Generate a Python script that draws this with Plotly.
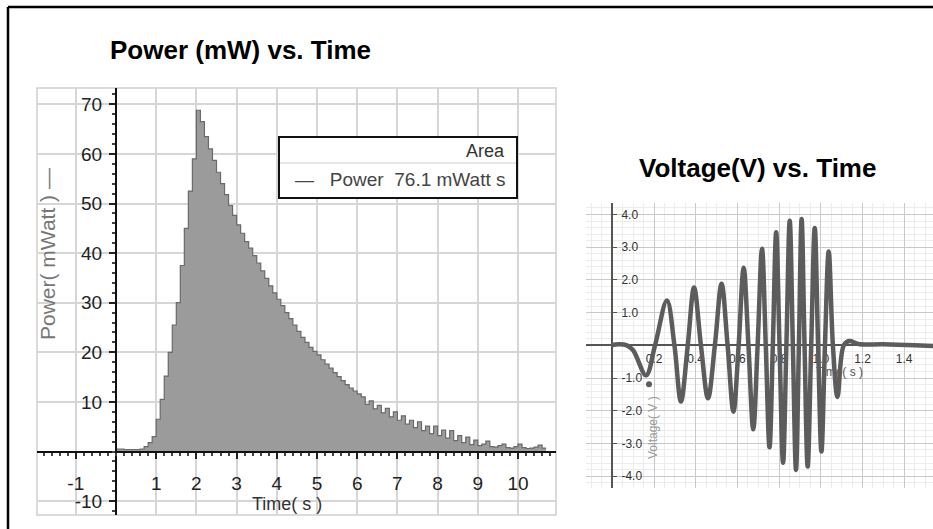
import plotly.graph_objects as go

W, H = 933, 529

# ---------------- data: Power (mW) vs Time (s) ----------------
power_t = [0.0, 0.1, 0.2, 0.3, 0.4, 0.5, 0.6, 0.7, 0.8, 0.9,
           1.0, 1.1, 1.2, 1.3, 1.4, 1.5, 1.6, 1.7, 1.8, 1.9,
           2.0, 2.1, 2.2, 2.3, 2.4, 2.5, 2.6, 2.7, 2.8, 2.9,
           3.0, 3.1, 3.2, 3.3, 3.4, 3.5, 3.6, 3.7, 3.8, 3.9,
           4.0, 4.1, 4.2, 4.3, 4.4, 4.5, 4.6, 4.7, 4.8, 4.9,
           5.0, 5.1, 5.2, 5.3, 5.4, 5.5, 5.6, 5.7, 5.8, 5.9,
           6.0, 6.1, 6.2, 6.3, 6.4, 6.5, 6.6, 6.7, 6.8, 6.9,
           7.0, 7.1, 7.2, 7.3, 7.4, 7.5, 7.6, 7.7, 7.8, 7.9,
           8.0, 8.1, 8.2, 8.3, 8.4, 8.5, 8.6, 8.7, 8.8, 8.9,
           9.0, 9.1, 9.2, 9.3, 9.4, 9.5, 9.6, 9.7, 9.8, 9.9,
           10.0, 10.1, 10.2, 10.3, 10.4, 10.5, 10.6, 10.7]
power_mw = [0.5, 0.5, 0.4, 0.4, 0.4, 0.4, 0.5, 1.0, 1.8, 3.0,
            6.5, 10.5, 15.2, 20.0, 25.5, 30.0, 37.5, 45.0, 52.5, 59.0,
            68.8, 66.5, 63.5, 61.0, 58.7, 56.3, 54.0, 51.8, 49.6, 47.6,
            45.7, 44.0, 42.3, 41.0, 39.5, 38.0, 36.4, 34.9, 33.4, 32.0,
            30.7, 29.4, 28.0, 26.8, 25.5, 24.2, 23.0, 22.0, 21.0, 20.2,
            19.5, 18.5, 17.6, 16.8, 15.9, 15.1, 14.3, 13.5, 12.8, 12.2,
            11.6, 11.0, 9.5, 10.2, 8.6, 9.3, 7.8, 8.7, 7.0, 8.0,
            6.3, 7.2, 5.5, 6.3, 4.8, 6.0, 4.2, 5.1, 3.6, 5.1,
            3.2, 4.3, 2.7, 4.2, 2.2, 3.2, 1.8, 2.9, 1.4, 2.3,
            1.2, 1.5, 2.1, 1.0, 0.9, 1.2, 1.5, 0.8, 0.7, 1.0,
            1.5, 0.8, 0.6, 0.7, 0.9, 1.3, 0.7, 0.7]

power_xticks = [-1, 1, 2, 3, 4, 5, 6, 7, 8, 9, 10]
power_yticks = [-10, 10, 20, 30, 40, 50, 60, 70]

# ---------------- data: Voltage (V) vs Time (s) ----------------
volt_t = [-0.005, 0.03, 0.07, 0.10, 0.162, 0.205, 0.262, 0.298, 0.329, 0.362,
          0.392, 0.425, 0.459, 0.492, 0.524, 0.553, 0.581, 0.606, 0.630, 0.653,
          0.676, 0.697, 0.718, 0.736, 0.754, 0.770, 0.786, 0.802, 0.819, 0.835,
          0.851, 0.866, 0.881, 0.895, 0.908, 0.922, 0.937, 0.954, 0.971, 0.987,
          1.003, 1.020, 1.038, 1.058, 1.080, 1.110, 1.137, 1.180, 1.300, 1.450,
          1.540]
volt_v = [0.0, 0.03, 0.0, -0.15, -0.92, 0.0, 1.37, 0.0, -1.72, 0.0,
          1.77, 0.0, -1.62, 0.0, 1.88, 0.0, -2.03, 0.0, 2.37, 0.0,
          -2.57, 0.0, 2.95, 0.0, -3.12, 0.0, 3.46, 0.0, -3.59, 0.0,
          3.81, 0.0, -3.81, 0.0, 3.86, 0.0, -3.71, 0.0, 3.59, 0.0,
          -3.25, 0.0, 2.87, 0.0, -1.58, 0.0, 0.13, 0.04, 0.03, 0.0,
          -0.02]
volt_stray_t = [0.176]
volt_stray_v = [-1.19]

volt_xticks = [0.2, 0.4, 0.6, 0.8, 1.0, 1.2, 1.4]
volt_yticks = [-4, -3, -2, -1, 1, 2, 3, 4]


def px(x):
    return x / W


def py(y):
    return 1 - y / H


# left plot geometry (pixels)
L_left, L_right, L_top, L_bot = 37, 556, 88, 515
L_x0, L_xs = 116, 40.2      # pixel of x=0, px per unit
L_y0, L_ys = 451.5, 4.96    # pixel of y=0, px per unit
# right plot geometry
R_left, R_right, R_top, R_bot = 586, 933, 203, 488
R_x0, R_xs = 612.3, 208.5
R_y0, R_ys = 345.3, 32.7

fig = go.Figure()

fig.add_trace(go.Scatter(
    x=power_t, y=power_mw, mode="lines", line=dict(shape="hv", color="#6a6a6a", width=1.2),
    fill="tozeroy", fillcolor="#9b9b9b", xaxis="x", yaxis="y", showlegend=False,
    hoverinfo="skip"))

fig.add_trace(go.Scatter(
    x=[1.09], y=[-0.85], mode="text", text=["Time( s )"],
    textfont=dict(family="Liberation Sans, Arial", size=12, color="#555"),
    xaxis="x2", yaxis="y2", showlegend=False, hoverinfo="skip"))

fig.add_trace(go.Scatter(
    x=volt_t, y=volt_v, mode="lines", line=dict(shape="spline", smoothing=1.0, color="#5c5c5c", width=4.5),
    xaxis="x2", yaxis="y2", showlegend=False))
fig.add_trace(go.Scatter(
    x=volt_stray_t, y=volt_stray_v, mode="markers", marker=dict(size=6, color="#5c5c5c"),
    xaxis="x2", yaxis="y2", showlegend=False))

tickfont_l = dict(family="Liberation Sans, Arial", size=19, color="#222")
tickfont_r = dict(family="Liberation Sans, Arial", size=12, color="#333")

fig.update_layout(
    width=W, height=H, margin=dict(l=0, r=0, t=0, b=0),
    paper_bgcolor="white", plot_bgcolor="white",
    xaxis=dict(
        domain=[px(L_left), px(L_right)],
        range=[(L_left - L_x0) / L_xs, (L_right - L_x0) / L_xs],
        anchor="free", position=py(L_y0),
        tickmode="array", tickvals=power_xticks, ticktext=[str(v) for v in power_xticks],
        ticks="outside", ticklen=6, tickwidth=1.5, tickcolor="#222",
        minor=dict(tickmode="linear", tick0=0, dtick=0.2, ticks="outside", ticklen=3,
                   tickcolor="#444", showgrid=False),
        showline=True, linecolor="#111", linewidth=2,
        showgrid=True, gridcolor="#d6d6d6", gridwidth=1.5,
        zeroline=False, tickfont=tickfont_l, ticklabelstandoff=9,
        fixedrange=True),
    yaxis=dict(
        domain=[py(L_bot), py(L_top)],
        range=[(L_y0 - L_bot) / L_ys, (L_y0 - L_top) / L_ys],
        anchor="free", position=px(L_x0),
        tickmode="array", tickvals=power_yticks, ticktext=[str(v) for v in power_yticks],
        ticks="outside", ticklen=6, tickwidth=1.5, tickcolor="#222",
        minor=dict(tickmode="linear", tick0=0, dtick=2, ticks="outside", ticklen=3,
                   tickcolor="#444", showgrid=False),
        showline=True, linecolor="#111", linewidth=2,
        showgrid=True, gridcolor="#d6d6d6", gridwidth=1.5,
        zeroline=False, tickfont=tickfont_l, ticklabelstandoff=3,
        fixedrange=True),
    xaxis2=dict(
        domain=[px(R_left), px(R_right)],
        range=[(R_left - R_x0) / R_xs, (R_right - R_x0) / R_xs],
        anchor="free", position=py(R_y0),
        tickmode="array", tickvals=volt_xticks, ticktext=["%.1f" % v for v in volt_xticks],
        ticks="", layer="below traces",
        minor=dict(tickmode="linear", tick0=0, dtick=0.05, showgrid=True,
                   gridcolor="#ececec", gridwidth=1),
        showline=True, linecolor="#555", linewidth=1.5,
        showgrid=True, gridcolor="#c9c9c9", gridwidth=1,
        zeroline=False, tickfont=tickfont_r, ticklabelstandoff=3,
        fixedrange=True),
    yaxis2=dict(
        domain=[py(R_bot), py(R_top)],
        range=[(R_y0 - R_bot) / R_ys, (R_y0 - R_top) / R_ys],
        anchor="free", position=px(R_x0), side="right",
        tickmode="array", tickvals=volt_yticks, ticktext=["%.1f" % v for v in volt_yticks],
        ticks="outside", ticklen=4, tickcolor="#555", layer="below traces",
        minor=dict(tickmode="linear", tick0=0, dtick=0.2, showgrid=True,
                   gridcolor="#ececec", gridwidth=1),
        showline=True, linecolor="#555", linewidth=1.5,
        showgrid=True, gridcolor="#c9c9c9", gridwidth=1,
        zeroline=False, tickfont=tickfont_r, ticklabelstandoff=2,
        fixedrange=True),
)

shapes = [
    # outer frame (top and left)
    dict(type="line", xref="paper", yref="paper", x0=px(8), x1=1.0, y0=py(7), y1=py(7),
         line=dict(color="black", width=2.5)),
    dict(type="line", xref="paper", yref="paper", x0=px(8), x1=px(8), y0=py(7), y1=0,
         line=dict(color="black", width=2.5)),
    # left plot border
    dict(type="rect", xref="x domain", yref="y domain", x0=0, x1=1, y0=0, y1=1,
         line=dict(color="#d0d0d0", width=1.5), layer="below"),
    # legend box
    dict(type="rect", xref="paper", yref="paper", x0=px(279), x1=px(517), y0=py(198), y1=py(137),
         line=dict(color="#111", width=2), fillcolor="white", layer="above"),
    dict(type="line", xref="paper", yref="paper", x0=px(280), x1=px(516), y0=py(163), y1=py(163),
         line=dict(color="#cfcfcf", width=1), layer="above"),
]
fig.update_layout(shapes=shapes)

annotations = [
    dict(text="<b>Power (mW) vs. Time</b>", x=px(108), y=py(50), xref="paper", yref="paper",
         xanchor="left", yanchor="middle", showarrow=False,
         font=dict(family="Liberation Sans, Arial", size=26, color="black")),
    dict(text="<b>Voltage(V) vs. Time</b>", x=px(757), y=py(168), xref="paper", yref="paper",
         xanchor="center", yanchor="middle", showarrow=False,
         font=dict(family="Liberation Sans, Arial", size=26, color="black")),
    dict(text="Time( s )", x=px(287), y=py(504), xref="paper", yref="paper",
         xanchor="center", yanchor="middle", showarrow=False,
         font=dict(family="Liberation Sans, Arial", size=18, color="#333")),
    dict(text="Power( mWatt ) \u2014", x=px(48), y=py(254), xref="paper", yref="paper",
         xanchor="center", yanchor="middle", showarrow=False, textangle=-90,
         font=dict(family="Liberation Sans, Arial", size=21, color="#777")),
    dict(text="Area", x=px(507), y=py(151), xref="paper", yref="paper",
         xanchor="right", yanchor="middle", showarrow=False,
         font=dict(family="Liberation Sans, Arial", size=18, color="#333")),
    dict(text="\u2014   Power  76.1 mWatt s", x=px(507), y=py(179), xref="paper", yref="paper",
         xanchor="right", yanchor="middle", showarrow=False,
         font=dict(family="Liberation Sans, Arial", size=19, color="#444")),
    dict(text="Voltage( V )", x=px(653), y=py(428), xref="paper", yref="paper",
         xanchor="center", yanchor="middle", showarrow=False, textangle=-90,
         font=dict(family="Liberation Sans, Arial", size=12, color="#999")),
]
fig.update_layout(annotations=annotations)

fig.write_html("out.html", config={"displayModeBar": False},
               post_script="document.body.style.margin='0px';")
